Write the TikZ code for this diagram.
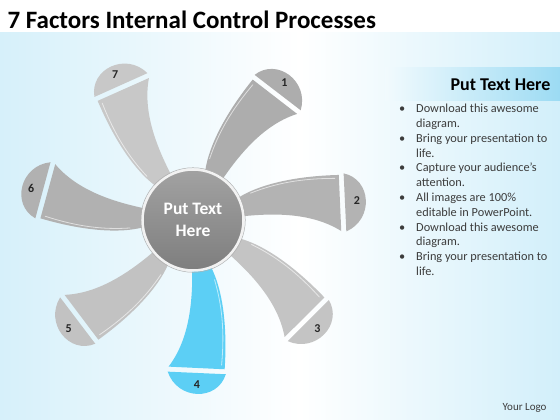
\documentclass[tikz,border=0pt]{standalone}
\usepackage{fontspec}
\setmainfont{Carlito}
\usepackage{xcolor}
\usepackage{tikz}
\usetikzlibrary{positioning}
\definecolor{bgleft}{HTML}{D6F0FA}
\definecolor{bgright}{HTML}{D2EFFA}
\definecolor{headblue}{HTML}{9CDBF3}
\definecolor{fanblue}{HTML}{5CCFF5}
\definecolor{fanA}{HTML}{ADADAD}
\definecolor{fanB}{HTML}{B3B3B3}
\definecolor{fanC}{HTML}{C4C4C4}
\definecolor{fanD}{HTML}{C2C2C2}
\definecolor{fanE}{HTML}{B1B1B1}
\definecolor{fanF}{HTML}{C8C8C8}
\definecolor{hubtop}{HTML}{A2A2A2}
\definecolor{hubbot}{HTML}{7E7E7E}
\definecolor{txtgray}{HTML}{3C3C3C}
\newcommand\bul{\makebox[17pt][l]{•}}
\newcommand\ind{\hspace*{17pt}}

\begin{document}
\begin{tikzpicture}[x=1pt, y=1pt,
  fanline/.style={draw=white, opacity=.6, line width=.8pt},
  num/.style={font=\bfseries\fontsize{12}{12}\selectfont, text=black!85},
  hub/.style={circle, minimum size=101pt, draw=white!90!gray, line width=2.5pt,
    top color=hubtop, bottom color=hubbot, text=white, align=center,
    font=\bfseries\fontsize{17.5}{22}\selectfont}]
  \useasboundingbox (0,0) rectangle (560,-420);
  \fill[white] (0,0) rectangle (560,-420);
  \shade[left color=bgleft, right color=white] (0,-33) rectangle (300,-420);
  \shade[left color=white, right color=bgright] (300,-33) rectangle (560,-420);
  \node[anchor=west, font=\bfseries\fontsize{25}{25}\selectfont] (title) at (4,-20) {7 Factors Internal Control Processes};
  \foreach \a/\c/\n in {56.4/fanA/1, 6.6/fanB/2, -41.1/fanC/3, -88.6/fanblue/4,
      -138.9/fanD/5, 168.8/fanE/6, 118.1/fanF/7} {
    \begin{scope}[shift={(193,-220)}, rotate=\a]
      \fill[\c] (44,-4) -- (46,-2) .. controls (86,-2) and (121,-8) .. (146,-28)
        -- (150,28) .. controls (106,32) and (66,28) .. (42,14) -- cycle;
      \draw[fanline] (60,20) .. controls (86,27) and (112,29) .. (146,25);
      \fill[\c] (155,29) .. controls (182,20) and (180,-20) .. (151,-29) -- cycle;
      \node[num] (n\n) at (165,0) {\n};
    \end{scope}
  }
  \node[hub] (hub) at (193,-220) {Put Text\\Here};
  \draw[gray!60, line width=.5pt] (hub.center) circle (52.3);
  \shade[left color=bgright!30!white, right color=headblue] (385,-68) rectangle (560,-101);
  \node[anchor=east, font=\bfseries\fontsize{18}{18}\selectfont] (head) at (554,-85) {Put Text Here};
  \node[anchor=north west, align=left, inner sep=0pt, text=txtgray,
    font=\fontsize{12.3}{14.8}\selectfont] (list) at (399,-104) {%
    \bul Download this awesome\\ \ind diagram.\\
    \bul Bring your presentation to\\ \ind life.\\
    \bul Capture your audience’s\\ \ind attention.\\
    \bul All images are 100\%\\ \ind editable in PowerPoint.\\
    \bul Download this awesome\\ \ind diagram.\\
    \bul Bring your presentation to\\ \ind life.};
  \node[anchor=east, font=\fontsize{11}{11}\selectfont, text=txtgray] (logo) at (550,-408) {Your Logo};
\end{tikzpicture}
\end{document}
